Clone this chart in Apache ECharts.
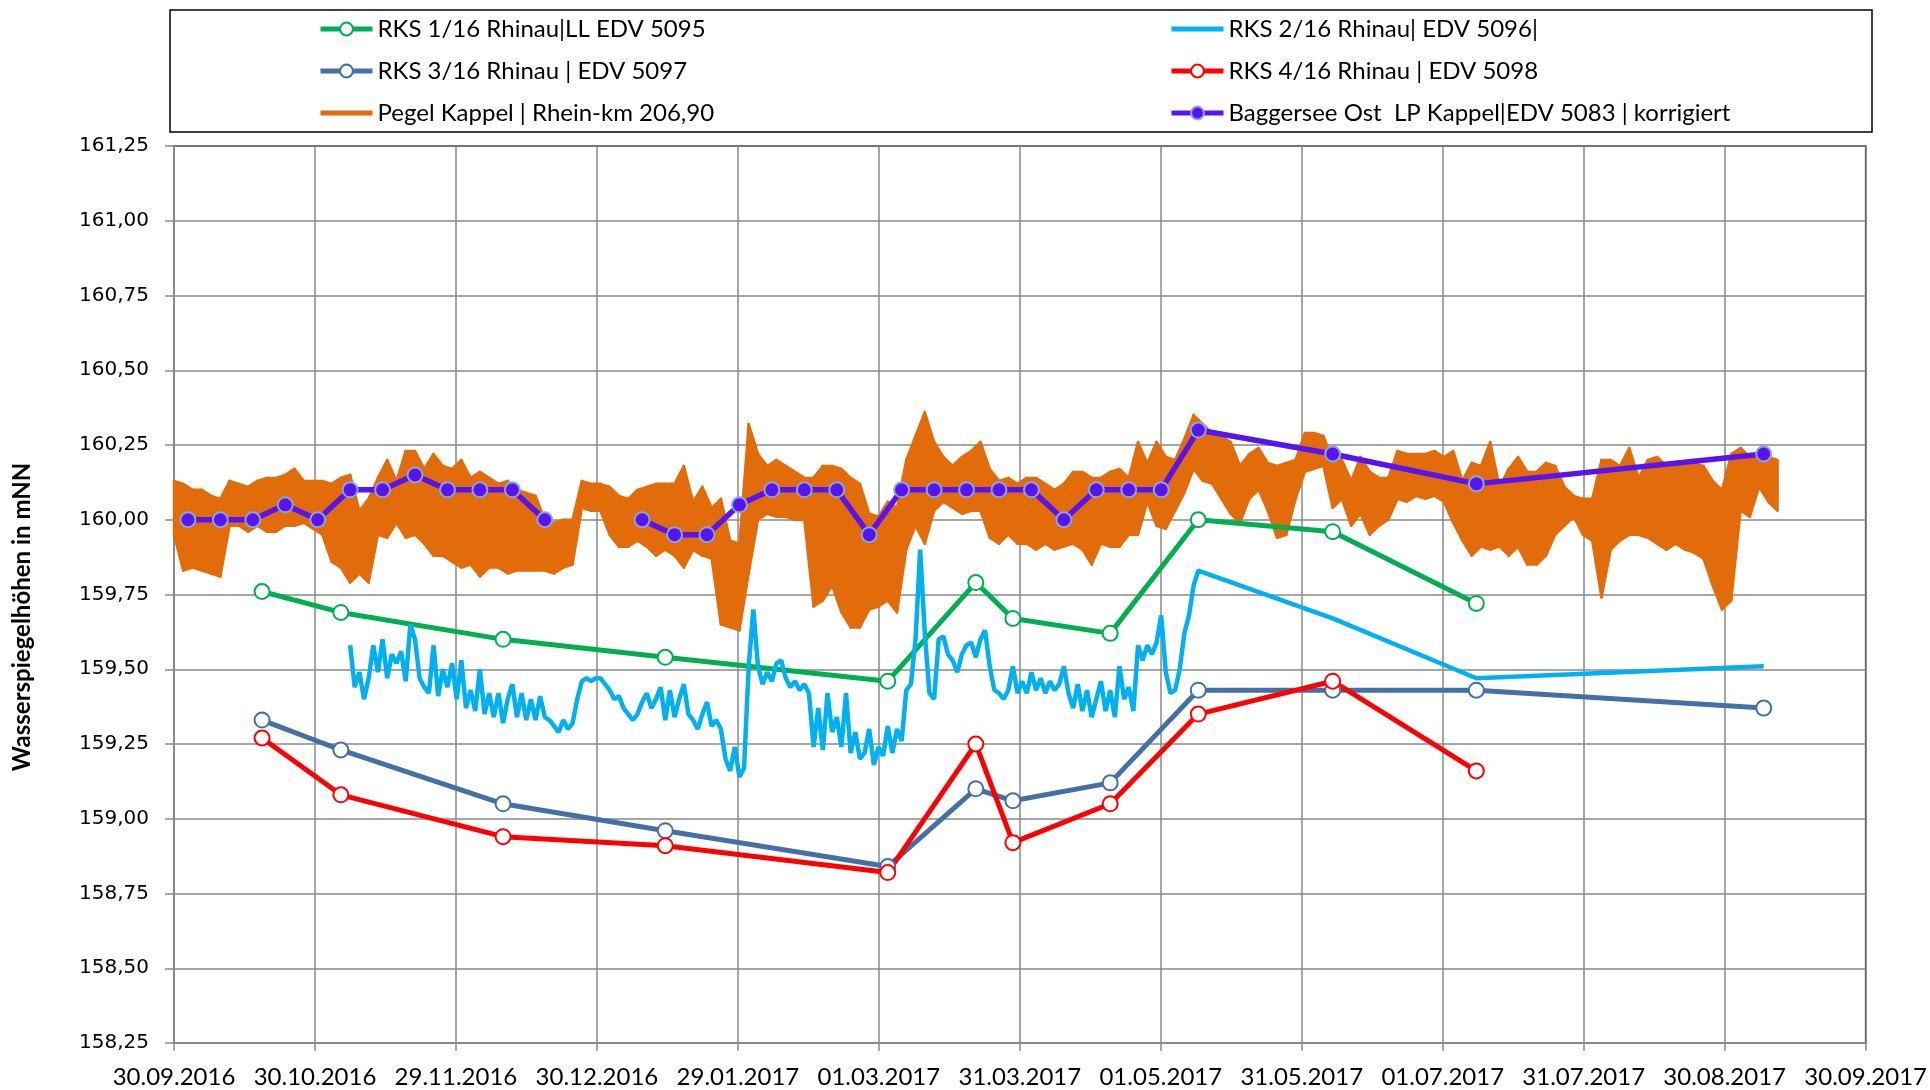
<!DOCTYPE html>
<html>
<head>
<meta charset="utf-8">
<title>Wasserspiegelhöhen Rhinau / Kappel</title>
<script src="https://cdn.jsdelivr.net/npm/echarts@6/dist/echarts.min.js"></script>
<style>
  html, body { margin: 0; padding: 0; background: #fff; }
  #chart { width: 1930px; height: 1090px; }
</style>
</head>
<body>
<div id="chart"></div>
<script>
  // x values are days since 30.09.2016
  const tickLabels = ['30.09.2016', '30.10.2016', '29.11.2016', '30.12.2016', '29.01.2017', '01.03.2017',
    '31.03.2017', '01.05.2017', '31.05.2017', '01.07.2017', '31.07.2017', '30.08.2017', '30.09.2017']

  // Stichtagsmessungen RKS (19.10.16 ... 08.09.17)
  const rksDays = [19, 36, 71, 106, 154, 173, 181, 202, 221, 250, 281, 343]
  const rks1 = [159.76, 159.69, 159.60, 159.54, 159.46, 159.79, 159.67, 159.62, 160.00, 159.96, 159.72, null]
  const rks3 = [159.33, 159.23, 159.05, 158.96, 158.84, 159.10, 159.06, 159.12, 159.43, 159.43, 159.43, 159.37]
  const rks4 = [159.27, 159.08, 158.94, 158.91, 158.82, 159.25, 158.92, 159.05, 159.35, 159.46, 159.16, null]

  // RKS 2/16 logger, daily values day 38 .. 220, then manual readings
  const rks2Start = 38
  const rks2Logger = [
    159.58, 159.44, 159.49, 159.40, 159.47, 159.58, 159.49, 159.60, 159.47, 159.55,
    159.52, 159.56, 159.46, 159.65, 159.60, 159.47, 159.44, 159.42, 159.58, 159.41,
    159.50, 159.44, 159.52, 159.40, 159.53, 159.37, 159.43, 159.36, 159.50, 159.35,
    159.42, 159.34, 159.42, 159.32, 159.40, 159.45, 159.34, 159.42, 159.33, 159.40,
    159.33, 159.41, 159.34, 159.33, 159.31, 159.29, 159.33, 159.30, 159.32, 159.40,
    159.46, 159.47, 159.46, 159.47, 159.47, 159.45, 159.43, 159.40, 159.41, 159.37,
    159.35, 159.33, 159.35, 159.39, 159.42, 159.37, 159.40, 159.44, 159.33, 159.43,
    159.34, 159.40, 159.45, 159.35, 159.33, 159.30, 159.35, 159.39, 159.31, 159.33,
    159.30, 159.20, 159.16, 159.24, 159.14, 159.17, 159.51, 159.70, 159.51, 159.45,
    159.49, 159.46, 159.52, 159.53, 159.47, 159.44, 159.46, 159.43, 159.45, 159.42,
    159.24, 159.37, 159.23, 159.42, 159.29, 159.34, 159.24, 159.42, 159.22, 159.29,
    159.20, 159.22, 159.30, 159.18, 159.24, 159.21, 159.31, 159.22, 159.30, 159.26,
    159.43, 159.45, 159.60, 159.90, 159.62, 159.42, 159.40, 159.60, 159.61, 159.55,
    159.53, 159.49, 159.55, 159.58, 159.59, 159.54, 159.60, 159.63, 159.51, 159.43,
    159.42, 159.40, 159.43, 159.51, 159.42, 159.46, 159.42, 159.49, 159.43, 159.47,
    159.42, 159.46, 159.43, 159.45, 159.51, 159.42, 159.37, 159.45, 159.36, 159.43,
    159.34, 159.40, 159.46, 159.36, 159.43, 159.34, 159.51, 159.40, 159.44, 159.36,
    159.58, 159.53, 159.58, 159.55, 159.59, 159.68, 159.49, 159.42, 159.43, 159.50,
    159.62, 159.68, 159.78
  ]
  const rks2ManualDays = [221, 250, 281, 343]
  const rks2Manual = [159.83, 159.67, 159.47, 159.51]

  // Pegel Kappel: max / min per 2 days, day 0 .. 346
  const pegelStep = 2
  const pegelMax = [
    160.13, 160.12, 160.10, 160.10, 160.08, 160.07, 160.13, 160.12, 160.11, 160.13,
    160.14, 160.14, 160.15, 160.17, 160.13, 160.13, 160.13, 160.12, 160.14, 160.15,
    160.03, 160.07, 160.14, 160.20, 160.13, 160.23, 160.23, 160.17, 160.22, 160.18,
    160.17, 160.20, 160.14, 160.16, 160.14, 160.12, 160.13, 160.10, 160.09, 160.08,
    160.00, 159.99, 160.00, 160.00, 160.13, 160.12, 160.12, 160.11, 160.08, 160.07,
    160.10, 160.11, 160.12, 160.12, 160.12, 160.18, 160.06, 160.11, 160.04, 160.07,
    159.93, 159.92, 160.32, 160.22, 160.18, 160.20, 160.18, 160.16, 160.14, 160.14,
    160.18, 160.18, 160.17, 160.14, 160.12, 160.02, 160.01, 160.06, 160.04, 160.20,
    160.28, 160.36, 160.26, 160.21, 160.18, 160.21, 160.23, 160.26, 160.17, 160.13,
    160.14, 160.12, 160.14, 160.14, 160.12, 160.10, 160.12, 160.16, 160.16, 160.14,
    160.14, 160.16, 160.17, 160.14, 160.26, 160.19, 160.26, 160.21, 160.20, 160.27,
    160.35, 160.32, 160.29, 160.28, 160.26, 160.18, 160.22, 160.24, 160.19, 160.18,
    160.19, 160.20, 160.29, 160.29, 160.28, 160.20, 160.20, 160.13, 160.21, 160.16,
    160.14, 160.14, 160.23, 160.22, 160.22, 160.22, 160.23, 160.21, 160.23, 160.13,
    160.19, 160.18, 160.26, 160.11, 160.17, 160.21, 160.16, 160.16, 160.19, 160.18,
    160.11, 160.08, 160.07, 160.07, 160.20, 160.20, 160.18, 160.24, 160.14, 160.20,
    160.21, 160.18, 160.19, 160.18, 160.19, 160.18, 160.13, 160.10, 160.22, 160.24,
    160.21, 160.21, 160.21, 160.20
  ]
  const pegelMin = [
    159.95, 159.83, 159.84, 159.83, 159.82, 159.81, 159.98, 159.98, 159.96, 159.98,
    159.96, 159.96, 159.98, 159.98, 159.99, 159.97, 159.95, 159.86, 159.84, 159.79,
    159.82, 159.79, 159.95, 159.94, 159.99, 159.94, 159.95, 159.92, 159.88, 159.88,
    159.86, 159.84, 159.85, 159.81, 159.84, 159.84, 159.82, 159.83, 159.83, 159.83,
    159.83, 159.82, 159.84, 159.85, 160.04, 160.03, 160.03, 159.95, 159.91, 159.91,
    159.93, 159.91, 159.88, 159.90, 159.88, 159.84, 159.90, 159.88, 159.87, 159.65,
    159.64, 159.63, 159.82, 160.00, 160.02, 160.01, 160.01, 160.00, 160.00, 159.71,
    159.73, 159.78, 159.69, 159.64, 159.64, 159.70, 159.71, 159.73, 159.69, 159.90,
    159.98, 159.92, 160.03, 160.06, 160.04, 160.02, 160.03, 160.03, 159.94, 159.92,
    159.95, 159.92, 159.92, 159.90, 159.92, 159.90, 159.91, 159.92, 159.90, 159.85,
    159.92, 159.91, 159.91, 159.95, 159.95, 160.06, 159.98, 159.97, 160.03, 160.09,
    160.17, 160.13, 160.12, 160.07, 160.02, 159.99, 160.07, 160.10, 160.03, 159.94,
    159.95, 160.07, 160.16, 160.17, 160.18, 160.04, 160.07, 159.98, 160.02, 159.95,
    159.98, 160.00, 160.07, 160.06, 160.08, 160.07, 160.08, 160.06, 159.99, 159.93,
    159.88, 159.91, 159.90, 159.91, 159.88, 159.91, 159.85, 159.85, 159.88, 159.95,
    159.98, 160.01, 159.95, 159.93, 159.74, 159.90, 159.93, 159.95, 159.95, 159.94,
    159.92, 159.90, 159.92, 159.90, 159.89, 159.87, 159.78, 159.70, 159.73, 160.03,
    160.01, 160.11, 160.06, 160.03
  ]

  // Baggersee Ost, weekly readings (gap end of Dec)
  const seeDays = [3, 10, 17, 24, 31, 38, 45, 52, 59, 66, 73, 80, 87, 101, 108, 115, 122, 129, 136, 143,
    150, 157, 164, 171, 178, 185, 192, 199, 206, 213, 221, 250, 281, 343]
  const seeValues = [160.00, 160.00, 160.00, 160.05, 160.00, 160.10, 160.10, 160.15, 160.10, 160.10,
    160.10, 160.00, null, 160.00, 159.95, 159.95, 160.05, 160.10, 160.10, 160.10,
    159.95, 160.10, 160.10, 160.10, 160.10, 160.10, 160.00, 160.10, 160.10, 160.10,
    160.30, 160.22, 160.12, 160.22]

  const names = {
    rks1: 'RKS 1/16 Rhinau|LL EDV 5095',
    rks2: 'RKS 2/16 Rhinau| EDV 5096|',
    rks3: 'RKS 3/16 Rhinau | EDV 5097',
    rks4: 'RKS 4/16 Rhinau | EDV 5098',
    pegel: 'Pegel Kappel | Rhein-km 206,90',
    see: 'Baggersee Ost  LP Kappel|EDV 5083 | korrigiert'
  }

  const pairs = (days, vals) => days.map((d, i) => [d, vals[i]])

  const rks2Data = rks2Logger.map((v, i) => [rks2Start + i, v]).concat(pairs(rks2ManualDays, rks2Manual))
  const pegelData = pegelMin.map((v, i) => [i * pegelStep, v, pegelMax[i]])

  const orange = '#E36C0A'
  const txtFont = 'Lato, "Liberation Sans", sans-serif'
  const tickStep = 365 / 12
  const grey = '#898989'
  const barIcon = 'path://M0,0L52,0L52,5L0,5Z'

  // band between min and max of the gauge, one quad per sample step
  function pegelBand(params, api) {
    const i = params.dataIndex
    if (i >= pegelData.length - 1) return null
    const a = pegelData[i]
    const b = pegelData[i + 1]
    const pts = [
      api.coord([a[0], a[2]]), api.coord([b[0], b[2]]),
      api.coord([b[0], b[1]]), api.coord([a[0], a[1]])
    ]
    return {
      type: 'polygon',
      shape: { points: pts },
      style: { fill: orange, stroke: orange, lineWidth: 2.5, lineJoin: 'round' }
    }
  }

  const legendBase = {
    orient: 'vertical',
    top: 16,
    padding: 0,
    itemWidth: 52, itemHeight: 16, itemGap: 16,
    selectedMode: false,
    lineStyle: { width: 5 },
    textStyle: { fontFamily: txtFont, fontSize: 24, color: '#000', lineHeight: 26 }
  }

  const myCharts = echarts.init(document.getElementById('chart'))
  let option = {
    animation: false,
    backgroundColor: '#fff',
    grid: {
      left: 174, right: 63, top: 146, bottom: 47,
      show: true,
      borderColor: '#000',
      borderWidth: 1.5
    },
    legend: [
      Object.assign({}, legendBase, {
        left: 318,
        data: [names.rks1, names.rks3, { name: names.pegel, icon: barIcon }]
      }),
      Object.assign({}, legendBase, {
        left: 1169,
        data: [{ name: names.rks2, icon: barIcon }, names.rks4, names.see]
      })
    ],
    graphic: [
      {
        type: 'rect',
        shape: { x: 170, y: 10, width: 1702, height: 122 },
        style: { fill: 'none', stroke: '#000', lineWidth: 1.5 }
      },
      {
        type: 'text',
        x: 22, y: 617,
        rotation: Math.PI / 2,
        style: {
          text: 'Wasserspiegelhöhen in mNN',
          font: 'bold 24px ' + txtFont,
          fill: '#000',
          align: 'center',
          verticalAlign: 'middle'
        }
      }
    ],
    xAxis: {
      type: 'value',
      min: 0,
      max: 365,
      interval: tickStep,
      axisLine: { lineStyle: { color: grey, width: 2 } },
      axisTick: { show: true, length: 8, lineStyle: { color: grey, width: 1.5 } },
      axisLabel: {
        margin: 22,
        fontFamily: txtFont,
        fontSize: 24,
        color: '#000',
        formatter: v => tickLabels[Math.round(v / tickStep)] || ''
      },
      splitLine: { show: true, lineStyle: { color: grey, width: 1.5 } }
    },
    yAxis: {
      type: 'value',
      min: 158.25,
      max: 161.25,
      interval: 0.25,
      axisLine: { show: true, lineStyle: { color: grey, width: 2 } },
      axisTick: { show: true, length: 9, lineStyle: { color: grey, width: 1.5 } },
      axisLabel: {
        margin: 25,
        fontFamily: '"DejaVu Sans", sans-serif',
        fontSize: 20,
        color: '#000',
        formatter: v => v.toFixed(2).replace('.', ',')
      },
      splitLine: { show: true, lineStyle: { color: grey, width: 1.5 } }
    },
    series: [
      {
        name: names.rks1,
        type: 'line',
        data: pairs(rksDays, rks1),
        symbol: 'emptyCircle',
        symbolSize: 15,
        itemStyle: { color: '#00B050', borderWidth: 3 },
        lineStyle: { color: '#00B050', width: 5 }
      },
      {
        name: names.rks2,
        type: 'line',
        data: rks2Data,
        symbol: 'none',
        itemStyle: { color: '#00B0F0' },
        lineStyle: { color: '#00B0F0', width: 4.5 }
      },
      {
        name: names.rks3,
        type: 'line',
        data: pairs(rksDays, rks3),
        symbol: 'emptyCircle',
        symbolSize: 15,
        itemStyle: { color: '#4470A8', borderWidth: 4.5 },
        lineStyle: { color: '#4470A8', width: 5 }
      },
      {
        name: names.rks4,
        type: 'line',
        data: pairs(rksDays, rks4),
        symbol: 'emptyCircle',
        symbolSize: 15,
        itemStyle: { color: '#FF0000', borderWidth: 3 },
        lineStyle: { color: '#FF0000', width: 5 }
      },
      {
        name: names.pegel,
        type: 'custom',
        renderItem: pegelBand,
        data: pegelData,
        encode: { x: 0, y: [1, 2] },
        itemStyle: { color: orange }
      },
      {
        name: names.see,
        type: 'line',
        data: pairs(seeDays, seeValues),
        connectNulls: false,
        symbol: 'circle',
        symbolSize: 15,
        itemStyle: { color: '#5514F0', borderColor: '#8FA4D6', borderWidth: 2 },
        lineStyle: { color: '#5514F0', width: 5.5 }
      }
    ]
  }
  myCharts.setOption(option)
  window.addEventListener('resize', () => {
    myCharts && myCharts.resize()
  })
</script>
</body>
</html>
